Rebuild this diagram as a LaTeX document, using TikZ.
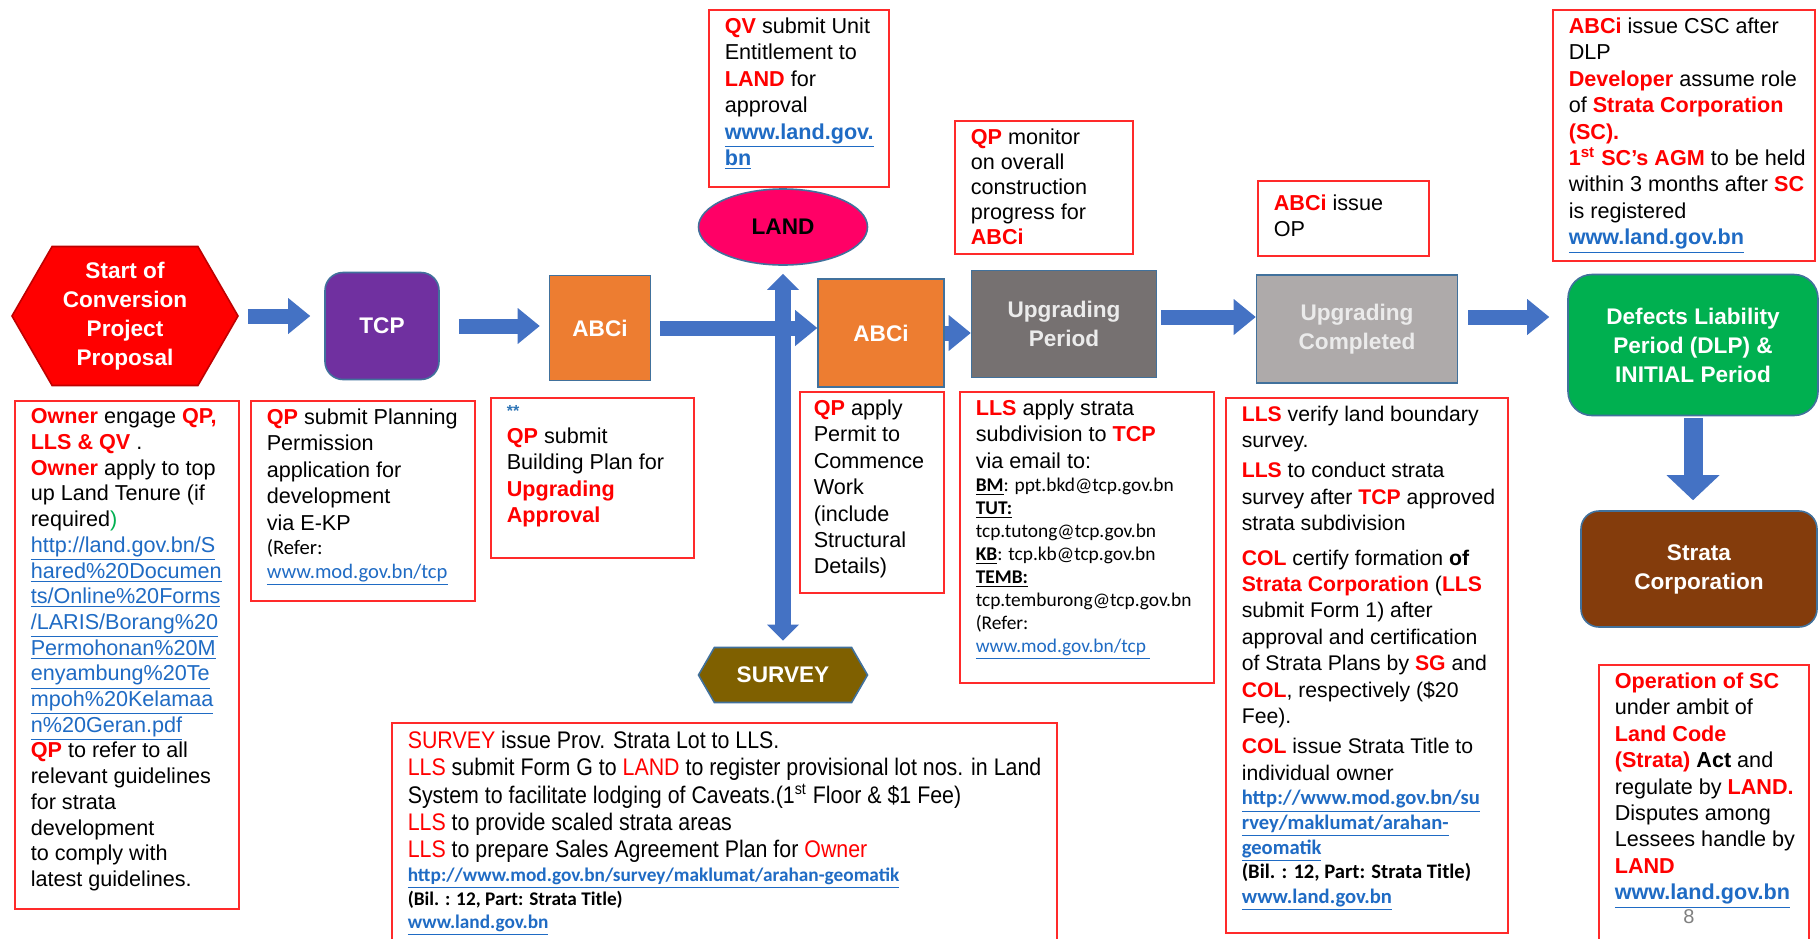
\documentclass[tikz,border=0pt]{standalone}
\usepackage{fontspec}
\setmainfont{Liberation Sans}
\newfontfamily\carlito{Carlito}
\newfontfamily\narrowsans{Liberation Sans}[FakeStretch=0.89]
\usetikzlibrary{arrows.meta,shapes.geometric,shapes.symbols}

\definecolor{redtxt}{HTML}{FF0000}
\definecolor{redline}{HTML}{FF2A2A}
\definecolor{linkblue}{HTML}{1F6BC4}
\definecolor{starblue}{HTML}{2E75B6}
\definecolor{arrowblue}{HTML}{4472C4}
\definecolor{edgeblue}{HTML}{41719C}
\definecolor{startred}{HTML}{FF0000}
\definecolor{tcppurple}{HTML}{7030A0}
\definecolor{abciorange}{HTML}{ED7D31}
\definecolor{landpink}{HTML}{FF0066}
\definecolor{surveybrown}{HTML}{7F6000}
\definecolor{upgray}{HTML}{767171}
\definecolor{donegray}{HTML}{AEAAAA}
\definecolor{dlpgreen}{HTML}{00B050}
\definecolor{scbrown}{HTML}{843C0C}

\newcommand{\redb}[1]{\textcolor{redtxt}{\textbf{#1}}}
\newcommand{\redn}[1]{\textcolor{redtxt}{#1}}
\newcommand{\weblink}[1]{\textcolor{linkblue}{\underline{#1}}}
\newcommand{\boxlines}[3]{\parbox[c][#2][t]{#1}{\rightskip=-40pt plus 1fil\relax #3}}

\begin{document}
\begin{tikzpicture}[x=0.5pt, y=-0.5pt,
  stage/.style={draw=edgeblue, line width=0.8pt, text=white, align=center, inner sep=2pt,
    font=\fontsize{11.3}{14.5}\selectfont\bfseries},
  note/.style={draw=redline, line width=0.8pt, anchor=north west, inner xsep=8pt, inner ysep=4pt,
    font=\fontsize{10.8}{13.2}\selectfont},
  flow/.style={arrowblue, line width=7.5pt, -{Triangle[length=11pt, width=18pt, line width=0pt]}},
  ]

\fill[white] (0,0) rectangle (1820,938);
\useasboundingbox (0,0) rectangle (1820,938);

% plot the main row
\node[stage, signal, signal to=east and west, signal pointer angle=120, fill=startred, draw=startred!75!black,
  minimum width=113pt, minimum height=69.5pt] (start) at (125,316) {Start of\\Conversion\\Project\\Proposal};
\node[stage, fill=tcppurple, rounded corners=9pt, minimum width=57pt, minimum height=53.5pt] (tcp) at (382,326) {TCP};
\node[stage, fill=abciorange, minimum width=50.5pt, minimum height=52.5pt] (abci) at (600,328) {ABCi};
\node[stage, ellipse, fill=landpink, text=black, minimum width=84.5pt, minimum height=38pt] (land) at (783,227) {LAND};
\node[stage, fill=abciorange, minimum width=63pt, minimum height=54pt] (permit) at (881,333) {ABCi};
\node[stage, signal, signal to=east and west, signal pointer angle=120, fill=surveybrown,
  minimum width=84.5pt, minimum height=27.5pt] (survey) at (783,675) {SURVEY};
\node[stage, fill=upgray, text=white!92!black, minimum width=92.5pt, minimum height=53.5pt] (upgrading) at (1064,324) {Upgrading\\Period};
\node[stage, fill=donegray, text=white!92!black, minimum width=100.5pt, minimum height=54pt] (completed) at (1357,329) {Upgrading\\Completed};
\node[stage, fill=dlpgreen, rounded corners=12pt, minimum width=125pt, minimum height=70.5pt] (dlp) at (1693,345) {Defects Liability\\Period (DLP) \&\\INITIAL Period};
\node[stage, fill=scbrown, rounded corners=9pt, minimum width=118pt, minimum height=58pt] (strata) at (1699,569) {Strata\\Corporation};

% plot the block arrows
\draw[flow, shorten <=4.5pt, shorten >=7pt] (start.east) -- (start.east -| tcp.west);
\draw[flow, shorten <=9.5pt, shorten >=4.5pt] (tcp.east) -- (tcp.east -| abci.west);
\draw[arrowblue, line width=8pt, {Triangle[length=8pt, width=16pt, line width=0pt]}-{Triangle[length=8pt, width=16pt, line width=0pt]},
  shorten <=4pt, shorten >=3pt] (land.south) -- (survey.north);
\draw[flow, shorten <=4.5pt] (abci.east) -- (abci.east -| permit.west);
\draw[flow] (permit.east) -- (permit.east -| upgrading.west);
\draw[flow, shorten <=2pt] ([yshift=3.5pt]upgrading.east) -- ([yshift=3.5pt]upgrading.east -| completed.west);
\draw[flow, shorten <=5pt, shorten >=9pt] ([yshift=6pt]completed.east) -- ([yshift=6pt]completed.east -| dlp.west);
\draw[arrowblue, line width=9.5pt, -{Triangle[length=12.5pt, width=26.5pt, line width=0pt]}, shorten <=1pt, shorten >=5pt] (dlp.south) -- (dlp.south |- strata.north);

% plot the notes
\node[note, font=\fontsize{10.8}{12.85}\selectfont] (owner) at (14,400) {\boxlines{96pt}{246pt}{%
\redb{Owner} engage \redb{QP,}\\
\redb{LLS \& QV} .\\
\redb{Owner} apply to top\\
up Land Tenure (if\\
required\textcolor{dlpgreen}{)}\\
\weblink{http://land.gov.bn/S}\\
\weblink{hared\%20Documen}\\
\weblink{ts/Online\%20Forms}\\
\weblink{/LARIS/Borang\%20}\\
\weblink{Permohonan\%20M}\\
\weblink{enyambung\%20Te}\\
\weblink{mpoh\%20Kelamaa}\\
\weblink{n\%20Geran.pdf}\\
\redb{QP} to refer to all\\
relevant guidelines\\
for strata\\
development\\
to comply with\\
latest guidelines.}};

\node[note] (plan) at (250,400) {\boxlines{96pt}{92pt}{%
\redb{QP} submit Planning\\
Permission\\
application for\\
development\\
via E-KP\par
{\carlito\fontsize{10.3}{12}\selectfont (Refer:\\
\weblink{www.mod.gov.bn/tcp}\par}}};

\node[note] (building) at (490,397) {\boxlines{85.5pt}{72pt}{%
{\fontsize{8}{11}\selectfont\textcolor{starblue}{\textbf{**}}\par}
\redb{QP} submit\\
Building Plan for\\
\redb{Upgrading}\\
\redb{Approval}}};

\node[note] (entitle) at (708,9) {\boxlines{74pt}{80.5pt}{%
\redb{QV} submit Unit\\
Entitlement to\\
\redb{LAND} for\\
approval\\
\textbf{\weblink{www.land.gov.}}\\
\textbf{\weblink{bn}}}};

\node[note, inner xsep=7pt] (commence) at (799,391) {\boxlines{58pt}{92.5pt}{%
\redb{QP} apply\\
Permit to\\
Commence\\
Work\\
(include\\
Structural\\
Details)}};

\node[note, font=\fontsize{10.8}{12.5}\selectfont] (monitor) at (954,120) {\boxlines{73pt}{58.5pt}{%
\redb{QP} monitor\\
on overall\\
construction\\
progress for\\
\redb{ABCi}}};

\node[note] (subdiv) at (959,391) {\boxlines{111pt}{137.5pt}{%
\redb{LLS} apply strata\\
subdivision to \redb{TCP}\\
via email to:\par
{\carlito\fontsize{9.7}{11.5}\selectfont
\underline{\textbf{BM}}: ppt.bkd@tcp.gov.bn\\
\underline{\textbf{TUT:}}\\
tcp.tutong@tcp.gov.bn\\
\underline{\textbf{KB}}: tcp.kb@tcp.gov.bn\\
\underline{\textbf{TEMB:}}\\
tcp.temburong@tcp.gov.bn\\
(Refer:\\
\weblink{www.mod.gov.bn/tcp }\par}}};

\node[note, inner ysep=7pt] (occupy) at (1257,180) {\boxlines{69.5pt}{23.5pt}{%
\redb{ABCi} issue\\
OP}};

\node[note, font=\fontsize{10.6}{13.2}\selectfont] (verify) at (1225,397) {\boxlines{125pt}{259.5pt}{%
\redb{LLS} verify land boundary\\
survey.\\[2pt]
\redb{LLS} to conduct strata\\
survey after \redb{TCP} approved\\
strata subdivision\\[4pt]
\redb{COL} certify formation \textbf{of}\\
\redb{Strata Corporation} (\redb{LLS}\\
submit Form 1) after\\
approval and certification\\
of Strata Plans by \redb{SG} and\\
\redb{COL}, respectively (\$20\\
Fee).\\[2pt]
\redb{COL} issue Strata Title to\\
individual owner\par
{\carlito\bfseries\fontsize{10.3}{12.3}\selectfont
\weblink{http://www.mod.gov.bn/su}\\
\weblink{rvey/maklumat/arahan-}\\
\weblink{geomatik}\\
(Bil. : 12, Part: Strata Title)\\
\weblink{www.land.gov.bn}\par}}};

\node[note] (csc) at (1552,9) {\boxlines{115pt}{117.5pt}{%
\redb{ABCi} issue CSC after\\
DLP\\
\redb{Developer} assume role\\
of \redb{Strata Corporation}\\
\redb{(SC).}\\
\redb{1\textsuperscript{st} SC’s AGM} to be held\\
within 3 months after \redb{SC}\\
is registered\\
\textbf{\weblink{www.land.gov.bn}}}};

\node[note] (operate) at (1598,664) {\boxlines{89pt}{135pt}{%
\redb{Operation of SC}\\
under ambit of\\
\redb{Land Code}\\
\redb{(Strata)} \textbf{Act} and\\
regulate by \redb{LAND.}\\
Disputes among\\
Lessees handle by\\
\redb{LAND}\\
\textbf{\weblink{www.land.gov.bn}}}};

\node[note, font=\narrowsans\fontsize{12}{13.7}\selectfont] (lots) at (391,722) {\boxlines{316.5pt}{112pt}{%
\redn{SURVEY} issue Prov. Strata Lot to LLS.\\
\redn{LLS} submit Form G to \redn{LAND} to register provisional lot nos. in Land\\
System to facilitate lodging of Caveats.(1\textsuperscript{st} Floor \& \$1 Fee)\\
\redn{LLS} to provide scaled strata areas\\
\redn{LLS} to prepare Sales Agreement Plan for \redn{Owner}\par
{\carlito\bfseries\fontsize{9.65}{11.8}\selectfont
\weblink{http://www.mod.gov.bn/survey/maklumat/arahan-geomatik}\\
(Bil. : 12, Part: Strata Title)\\
\weblink{www.land.gov.bn}\par}}};

\node[text=gray, font=\fontsize{10}{12}\selectfont] (pagenum) at (1689,917) {8};

\end{tikzpicture}
\end{document}
